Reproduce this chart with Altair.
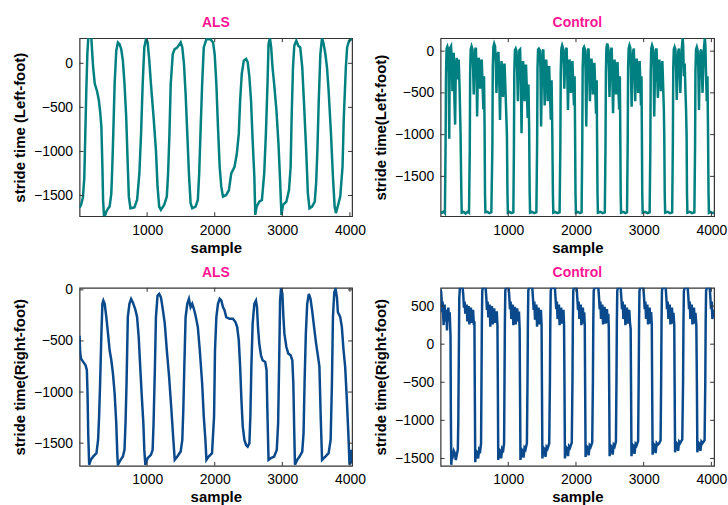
import altair as alt
import pandas as pd

# ---------------- data ----------------
X_TICKS = [1000, 2000, 3000, 4000]

# ALS, left foot (teal)
als_left_x = [0, 25, 50, 70, 85, 100, 115, 128, 150, 175, 190, 201, 225, 260, 285, 305, 323, 338, 348, 362,
              380, 396, 420, 445, 470, 484, 499, 519, 543, 567, 592, 616, 641, 665, 690, 714, 729, 753, 790, 812,
              851, 885, 910, 934, 958, 983, 1007, 1032, 1056, 1095, 1130, 1154, 1178, 1203, 1252, 1291, 1310, 1330, 1349, 1379,
              1408, 1447, 1496, 1520, 1545, 1569, 1594, 1618, 1643, 1667, 1716, 1750, 1770, 1789, 1814, 1838, 1877, 1936, 1975, 1999,
              2024, 2048, 2073, 2097, 2122, 2170, 2210, 2244, 2293, 2327, 2356, 2376, 2400, 2430, 2464, 2488, 2513, 2537, 2561, 2586,
              2600, 2620, 2659, 2698, 2732, 2757, 2781, 2796, 2816, 2835, 2855, 2879, 2913, 2943, 2967, 2987, 3011, 3060, 3099, 3123,
              3138, 3158, 3177, 3207, 3236, 3265, 3295, 3319, 3353, 3378, 3402, 3441, 3480, 3500, 3519, 3539, 3563, 3588, 3612, 3637,
              3661, 3685, 3720, 3749, 3774, 3793, 3832, 3857, 3891, 3910, 3940, 3959, 3988, 4032]
als_left_y = [-1640, -1600, -1520, -1300, -800, -300, 100, 280, 300, 280, 80, -45, -233, -320, -420, -550, -723, -1174, -1551, -1740,
              -1720, -1682, -1650, -1626, -1475, -1174, -798, -233, 143, 237, 218, 161, 30, -233, -610, -1174, -1513, -1645, -1640, -1633,
              -1551, -1250, -798, -233, 180, 274, 240, 30, -233, -610, -986, -1400, -1626, -1663, -1607, -1513, -1250, -798, -233, 105,
              161, 180, 237, 180, -8, -346, -798, -1250, -1588, -1645, -1626, -1551, -1250, -798, -233, 180, 274, 274, 237, 105,
              -233, -723, -1174, -1400, -1513, -1494, -1438, -1250, -1174, -1024, -798, -422, -121, 30, 49, 11, -158, -422, -873, -1287,
              -1720, -1626, -1570, -1551, -1250, -798, -233, 218, 290, 180, -45, -233, -535, -911, -1325, -1720, -1607, -1570, -1438, -1174,
              -610, -45, 199, 256, 199, 180, -45, -422, -986, -1475, -1645, -1626, -1570, -1363, -986, -422, 105, 290, 218, 105,
              -45, -309, -798, -1287, -1626, -1700, -1588, -1513, -1174, -610, -45, 180, 256, 280]

# Control, left foot (teal)
ctrl_left_x = [0, 20, 45, 64,
               74, 80, 88, 100, 112, 120, 128, 134, 142, 155, 165, 175, 185, 195, 205, 215, 225, 238, 250, 258, 268, 280, 295, 305, 312, 340, 370, 400, 420,
               431, 437, 445, 458, 470, 480, 490, 500, 512, 522, 532, 540, 550, 562, 575, 585, 595, 608, 620, 632, 642, 650, 656, 662, 690, 720, 750,
               765, 771, 780, 792, 805, 815, 825, 835, 845, 855, 868, 878, 888, 900, 912, 922, 932, 945, 958, 970, 980, 988, 994, 1020, 1050, 1075,
               1083, 1089, 1098, 1110, 1122, 1132, 1142, 1152, 1164, 1175, 1186, 1196, 1205, 1218, 1230, 1240, 1250, 1262, 1274, 1286, 1298, 1308, 1316, 1322, 1350, 1385, 1415,
               1426, 1432, 1440, 1452, 1465, 1475, 1485, 1495, 1507, 1518, 1528, 1538, 1548, 1560, 1572, 1582, 1592, 1604, 1616, 1628, 1640, 1650, 1659, 1665, 1690, 1725, 1758,
               1769, 1775, 1784, 1796, 1808, 1818, 1828, 1838, 1850, 1862, 1872, 1882, 1892, 1904, 1916, 1926, 1936, 1948, 1960, 1970, 1980, 1986, 1993, 1999, 2030, 2060, 2083,
               2093, 2099, 2108, 2120, 2132, 2142, 2152, 2162, 2174, 2186, 2196, 2206, 2216, 2228, 2240, 2250, 2260, 2272, 2284, 2296, 2306, 2311, 2318, 2324, 2360, 2395, 2426,
               2436, 2442, 2450, 2462, 2475, 2485, 2495, 2505, 2517, 2528, 2538, 2548, 2558, 2570, 2582, 2592, 2602, 2614, 2626, 2638, 2648, 2654, 2660, 2666, 2700, 2730, 2754,
               2764, 2770, 2778, 2790, 2802, 2812, 2822, 2832, 2844, 2855, 2865, 2875, 2885, 2897, 2909, 2919, 2929, 2941, 2951, 2960, 2968, 2973, 2979, 2985, 3020, 3055, 3088,
               3098, 3104, 3112, 3124, 3136, 3146, 3156, 3166, 3178, 3190, 3200, 3210, 3220, 3232, 3244, 3254, 3264, 3276, 3288, 3298, 3304, 3311, 3317, 3350, 3390, 3421,
               3431, 3437, 3445, 3457, 3469, 3479, 3489, 3499, 3511, 3522, 3532, 3542, 3552, 3564, 3576, 3584, 3594, 3606, 3616, 3626, 3634, 3640, 3646, 3680, 3715, 3749,
               3759, 3765, 3773, 3785, 3797, 3807, 3817, 3827, 3839, 3850, 3860, 3870, 3880, 3892, 3904, 3912, 3922, 3932, 3942, 3950, 3958, 3964, 3990, 4010, 4040]
ctrl_left_y = [-1925, -1935, -1920, -1940,
               -1100, -300, 30, 55, 20, -250, -1050, -300, 40, 60, -100, -480, -150, -20, -600, -880, -200, -80, -340, -150, -100, -420, -980, -1600, -1935, -1925, -1945, -1925, -1935,
               -1200, -250, 20, 60, 30, -200, -520, -150, 20, 40, -300, -784, -300, -80, -150, -450, -200, -100, -400, -700, -300, -900, -1700, -1930, -1925, -1940, -1930,
               -1150, -200, 50, 90, 60, -150, -500, -250, -30, -10, -400, -824, -350, -120, -200, -550, -250, -150, -450, -750, -1000, -1700, -1935, -1925, -1940, -1930,
               -1200, -250, 10, 30, 0, -250, -600, -200, 10, 20, -350, -983, -400, -120, -220, -600, -280, -160, -450, -800, -400, -900, -1700, -1935, -1925, -1940, -1930,
               -1100, -200, 20, 30, 10, -200, -903, -350, 0, 20, -300, -650, -250, -100, -250, -600, -300, -180, -500, -820, -350, -950, -1700, -1935, -1925, -1940, -1930,
               -1150, -250, 30, 70, 40, -150, -450, -150, 20, 40, -300, -704, -300, -100, -200, -500, -220, -120, -400, -650, -300, -900, -1700, -1935, -1925, -1940, -1930,
               -1100, -200, 30, 50, 20, -250, -903, -300, 10, 30, -280, -600, -250, -90, -200, -520, -250, -140, -420, -750, -350, -950, -1700, -1935, -1925, -1940, -1930,
               -1150, -250, 40, 90, 50, -200, -550, -200, 20, 40, -350, -744, -300, -100, -250, -520, -230, -130, -450, -700, -300, -900, -1700, -1935, -1925, -1940, -1930,
               -1100, -200, 30, 70, 40, -250, -665, -250, 0, 30, -300, -600, -250, -90, -220, -500, -200, -120, -400, -650, -300, -900, -1700, -1935, -1925, -1940, -1930,
               -1200, -250, 30, 70, 40, -200, -784, -300, 10, 30, -300, -560, -250, -100, -230, -480, -200, -120, -420, -700, -1000, -1700, -1935, -1925, -1940, -1930,
               -1100, -200, 20, 50, 20, -250, -585, -250, 0, 30, -250, -500, -200, 40, 160, 60, -300, -150, -450, -700, -1000, -1700, -1935, -1925, -1940, -1930,
               -1150, -250, 20, 50, 10, -200, -704, -250, 0, 20, -250, -500, -200, 50, 160, 60, -300, -600, -300, -900, -1700, -1935, -1925, -1940, -1930]

# ALS, right foot (blue)
als_right_x = [0, 8, 20, 54, 89, 108, 118, 128, 142, 167, 201, 250, 274, 289, 304, 323, 338, 352, 372, 396,
               421, 445, 470, 494, 519, 543, 558, 567, 607, 641, 665, 680, 695, 714, 738, 763, 787, 822, 851, 875,
               900, 924, 944, 958, 973, 1007, 1056, 1081, 1095, 1115, 1130, 1154, 1178, 1203, 1227, 1261, 1291, 1325, 1359, 1388,
               1408, 1447, 1496, 1520, 1535, 1550, 1569, 1594, 1618, 1643, 1667, 1691, 1716, 1750, 1779, 1814, 1838, 1862, 1877, 1911,
               1960, 1990, 2004, 2024, 2048, 2073, 2097, 2122, 2146, 2170, 2219, 2268, 2307, 2332, 2356, 2376, 2395, 2415, 2439, 2464,
               2488, 2513, 2527, 2542, 2561, 2586, 2610, 2625, 2640, 2659, 2684, 2708, 2747, 2767, 2781, 2796, 2830, 2879, 2918, 2938,
               2952, 2967, 2982, 3001, 3016, 3031, 3060, 3089, 3123, 3148, 3163, 3177, 3187, 3221, 3255, 3295, 3314, 3329, 3348, 3368,
               3392, 3417, 3441, 3470, 3500, 3529, 3549, 3568, 3588, 3637, 3685, 3715, 3734, 3749, 3769, 3788, 3808, 3822, 3857, 3881,
               3906, 3930, 3955, 3979, 3994, 4014, 4032]
als_right_y = [-450, -600, -672, -705, -737, -786, -1014, -1404, -1712, -1663, -1631, -1598, -1469, -1241, -916, -429, -136, -104, -136, -266,
               -429, -591, -689, -819, -1014, -1306, -1600, -1712, -1663, -1631, -1566, -1306, -916, -266, -136, -88, -120, -185, -266, -461,
               -786, -1079, -1306, -1566, -1712, -1647, -1615, -1566, -1306, -754, -266, -55, -39, -71, -169, -331, -591, -851, -1176, -1469,
               -1663, -1631, -1582, -1469, -1176, -754, -266, -136, -88, -169, -136, -185, -250, -364, -591, -916, -1241, -1469, -1663, -1631,
               -1598, -1241, -591, -266, -136, -88, -104, -169, -201, -266, -283, -283, -315, -364, -494, -754, -1079, -1339, -1469, -1518,
               -1534, -1501, -1241, -754, -331, -136, -104, -169, -364, -526, -640, -689, -705, -786, -1241, -1663, -1647, -1631, -1566, -1306,
               -754, -104, 20, -39, -266, -429, -559, -624, -640, -689, -916, -1404, -1712, -1663, -1631, -1582, -1404, -916, -429, -136,
               -39, -88, -201, -364, -526, -656, -754, -1241, -1663, -1631, -1598, -1469, -916, -266, -23, 10, -71, -218, -266, -364,
               -591, -754, -1079, -1436, -1712, -1566, -1700]

# Control, right foot (blue)
ctrl_right_x = [0, 8, 15, 22, 30, 38, 45, 52, 60, 68, 76, 85, 95, 105, 115, 125, 135, 147, 152, 158, 168, 180, 195, 210, 225, 240, 255, 262, 270, 276,
                285, 300, 325, 335, 345, 355, 365, 375, 385, 395, 405, 415, 425, 435, 448, 458, 468, 480, 492, 500, 505, 512, 525, 540, 555, 570, 585, 598, 604, 610, 616,
                625, 665, 675, 685, 695, 705, 715, 725, 735, 745, 758, 770, 780, 792, 805, 818, 830, 840, 845, 852, 865, 880, 895, 910, 925, 938, 944, 950, 956,
                965, 1005, 1015, 1025, 1035, 1045, 1055, 1065, 1075, 1085, 1098, 1110, 1120, 1132, 1145, 1158, 1168, 1173, 1180, 1195, 1210, 1225, 1240, 1255, 1275, 1284, 1290, 1296,
                1305, 1355, 1365, 1375, 1385, 1395, 1405, 1415, 1425, 1435, 1448, 1460, 1470, 1482, 1492, 1497, 1504, 1520, 1535, 1550, 1565, 1580, 1605, 1615, 1621, 1627,
                1638, 1688, 1698, 1708, 1718, 1728, 1738, 1748, 1758, 1768, 1781, 1793, 1803, 1815, 1824, 1830, 1837, 1852, 1867, 1882, 1897, 1912, 1938, 1948, 1954, 1960,
                1970, 2010, 2020, 2030, 2040, 2050, 2060, 2070, 2080, 2090, 2102, 2112, 2122, 2130, 2135, 2142, 2157, 2172, 2187, 2202, 2217, 2240, 2250, 2256, 2262,
                2275, 2330, 2340, 2350, 2360, 2370, 2380, 2390, 2400, 2410, 2423, 2435, 2445, 2457, 2468, 2478, 2485, 2490, 2497, 2512, 2527, 2542, 2557, 2572, 2590, 2598, 2604, 2610,
                2620, 2660, 2670, 2680, 2690, 2700, 2710, 2720, 2730, 2740, 2753, 2765, 2775, 2787, 2798, 2808, 2813, 2820, 2835, 2850, 2865, 2880, 2895, 2918, 2926, 2932, 2938,
                2950, 2995, 3005, 3015, 3025, 3035, 3045, 3055, 3065, 3075, 3088, 3100, 3110, 3120, 3125, 3132, 3147, 3162, 3177, 3192, 3207, 3230, 3250, 3258, 3264, 3270,
                3280, 3325, 3335, 3345, 3355, 3365, 3375, 3385, 3395, 3405, 3418, 3430, 3440, 3452, 3457, 3464, 3479, 3494, 3509, 3524, 3539, 3570, 3582, 3588, 3594,
                3610, 3650, 3660, 3670, 3680, 3690, 3700, 3710, 3720, 3730, 3743, 3755, 3765, 3778, 3786, 3793, 3808, 3823, 3838, 3853, 3868, 3900, 3910, 3916, 3922,
                3935, 3975, 3985, 3995, 4005, 4015, 4025, 4040]
ctrl_right_y = [720, 690, 600, 420, 560, 380, 250, 480, 520, 300, 450, 400, 180, 420, 480, 300, 420, 100, -900, -1584, -1450, -1470, -1400, -1430, -1520, -1450, -1380, -1000, -100, 600,
                740, 745, 745, 650, 480, 560, 400, 480, 520, 300, 440, 500, 260, 420, 480, 280, 380, 450, 250, 300, -500, -1550, -1400, -1420, -1500, -1380, -1400, -1300, -500, 300, 700,
                745, 745, 620, 450, 560, 350, 470, 520, 230, 420, 500, 260, 400, 470, 280, 380, 430, 250, -400, -1520, -1380, -1400, -1500, -1370, -1390, -1300, -500, 300, 700,
                745, 745, 620, 460, 560, 330, 460, 520, 250, 420, 490, 260, 400, 470, 300, 430, 200, -500, -1520, -1380, -1400, -1490, -1360, -1380, -1300, -500, 300, 700,
                745, 745, 600, 450, 560, 320, 470, 520, 230, 420, 480, 260, 400, 450, 250, -500, -1500, -1360, -1380, -1480, -1350, -1370, -1300, -500, 300, 700,
                745, 745, 610, 460, 560, 330, 460, 520, 250, 420, 480, 270, 400, 450, 250, -500, -1500, -1350, -1370, -1470, -1340, -1360, -1290, -500, 300, 700,
                745, 745, 600, 450, 560, 330, 470, 520, 250, 420, 480, 270, 420, 250, -500, -1480, -1340, -1360, -1460, -1330, -1350, -1290, -500, 300, 700,
                745, 745, 620, 460, 560, 330, 470, 520, 260, 420, 490, 270, 400, 460, 280, 400, 200, -500, -1470, -1330, -1350, -1450, -1320, -1340, -1280, -500, 300, 700,
                745, 745, 610, 460, 560, 330, 460, 520, 250, 420, 480, 270, 400, 450, 280, 200, -500, -1470, -1320, -1340, -1440, -1310, -1330, -1270, -500, 300, 700,
                745, 745, 620, 460, 560, 330, 470, 520, 260, 420, 480, 270, 420, 250, -500, -1450, -1310, -1330, -1430, -1300, -1320, -1300, -1260, -500, 300, 700,
                745, 745, 610, 460, 560, 330, 470, 520, 260, 420, 480, 270, 410, 250, -500, -1420, -1290, -1310, -1400, -1280, -1300, -1250, -500, 300, 700,
                745, 745, 620, 460, 560, 330, 470, 520, 260, 420, 480, 270, 410, 250, -500, -1420, -1290, -1310, -1400, -1280, -1300, -1260, -500, 300, 700,
                745, 745, 620, 460, 560, 330, 450, 350]

# ---------------- styling ----------------
TEAL = "#008080"
BLUE = "#0a4a8c"
PINK = "#ff1493"
FRAME = "#333333"
FONT = "Liberation Sans"


def panel(xs, ys, color, xdom, ydom, yticks, title, ytitle, w, h):
    df = pd.DataFrame({"x": xs, "y": ys})
    xs_ = alt.Scale(domain=xdom, nice=False, zero=False)
    ys_ = alt.Scale(domain=ydom, nice=False, zero=False)
    xaxis = alt.Axis(values=X_TICKS, title="sample", format="d", ticks=False, domain=False, grid=False,
                     labelPadding=7, titlePadding=3, labelFont=FONT, labelFontSize=14, labelColor="#000",
                     titleFont=FONT, titleFontSize=15, titleFontWeight="bold", titleColor="#000")
    yaxis = alt.Axis(values=yticks, title=ytitle, format="d", ticks=False, domain=False, grid=False,
                     labelPadding=7, titlePadding=6, labelFont=FONT, labelFontSize=14, labelColor="#000",
                     titleFont=FONT, titleFontSize=15, titleFontWeight="bold", titleColor="#000")
    line = alt.Chart(df).mark_line(color=color, strokeWidth=2.5, clip=True).encode(
        x=alt.X("x:Q", scale=xs_, axis=xaxis),
        y=alt.Y("y:Q", scale=ys_, axis=yaxis),
    )
    xt = pd.DataFrame({"x": X_TICKS})
    yt = pd.DataFrame({"y": yticks})
    top_t = alt.Chart(xt).mark_rule(color=FRAME, strokeWidth=1).encode(
        x=alt.X("x:Q", scale=xs_, axis=xaxis), y=alt.value(0), y2=alt.value(4))
    bot_t = alt.Chart(xt).mark_rule(color=FRAME, strokeWidth=1).encode(
        x=alt.X("x:Q", scale=xs_, axis=xaxis), y=alt.value(h), y2=alt.value(h - 4))
    left_t = alt.Chart(yt).mark_rule(color=FRAME, strokeWidth=1).encode(
        y=alt.Y("y:Q", scale=ys_, axis=yaxis), x=alt.value(0), x2=alt.value(4))
    right_t = alt.Chart(yt).mark_rule(color=FRAME, strokeWidth=1).encode(
        y=alt.Y("y:Q", scale=ys_, axis=yaxis), x=alt.value(w), x2=alt.value(w - 4))
    ttl = alt.Chart(pd.DataFrame({"t": [title]})).mark_text(
        color=PINK, font=FONT, fontSize=14, fontWeight="bold", align="center", baseline="alphabetic"
    ).encode(x=alt.value(w / 2), y=alt.value(-11), text="t:N")
    return alt.layer(line, top_t, bot_t, left_t, right_t, ttl).properties(width=w, height=h)


p1 = panel(als_left_x, als_left_y, TEAL, [0, 4032], [-1735, 285], [0, -500, -1000, -1500],
           "ALS", "stride time (Left-foot)", 274, 179)
p2 = panel(ctrl_left_x, ctrl_left_y, TEAL, [0, 4040], [-1977, 155], [0, -500, -1000, -1500],
           "Control", "stride time(Left-foot)", 275, 179)
p3 = panel(als_right_x, als_right_y, BLUE, [0, 4032], [-1722, 20], [0, -500, -1000, -1500],
           "ALS", "stride time(Right-foot)", 274, 179)
p4 = panel(ctrl_right_x, ctrl_right_y, BLUE, [0, 4040], [-1597, 740], [500, 0, -500, -1000, -1500],
           "Control", "stride time(Right-foot)", 275, 179)

chart = alt.concat(p1, p2, p3, p4, columns=2, spacing=alt.RowColnumber(row=72, column=89), bounds="flush").properties(
    padding={"left": 12, "top": 14, "right": 0, "bottom": 0},
    background="white",
).configure_view(stroke=FRAME, strokeWidth=1.2)

chart.save("out.html", embed_options={"renderer": "svg", "actions": False})
